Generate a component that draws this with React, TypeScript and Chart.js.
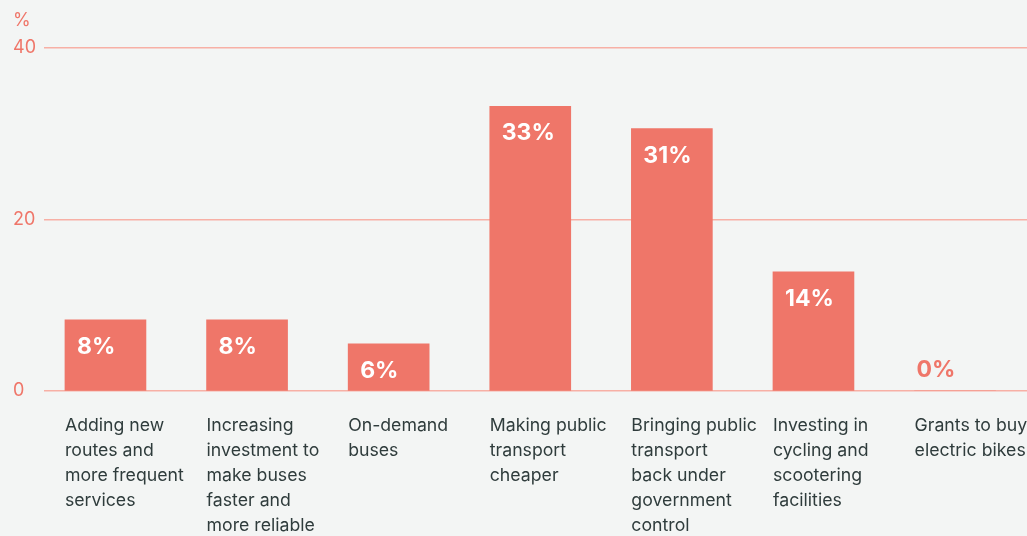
import React, { useEffect, useRef } from "react";
import { Chart, registerables } from "chart.js";

Chart.register(...registerables);

const categories: string[][] = [
  ["Adding new", "routes and", "more frequent", "services"],
  ["Increasing", "investment to", "make buses", "faster and", "more reliable"],
  ["On-demand", "buses"],
  ["Making public", "transport", "cheaper"],
  ["Bringing public", "transport", "back under", "government", "control"],
  ["Investing in", "cycling and", "scootering", "facilities"],
  ["Grants to buy", "electric bikes"],
];
const values = [8.3, 8.3, 5.5, 33.2, 30.6, 13.9, 0];
const valueLabels = ["8%", "8%", "6%", "33%", "31%", "14%", "0%"];
const yTicks = [0, 20, 40];
const yUnit = "%";

const SALMON = "#ef7669";
const GRID = "#f7b0a5";
const BG = "#f3f5f4";
const TEXT = "#2f3c3c";
const FONT = "Inter, 'Noto Sans', sans-serif";

const valueLabelPlugin = {
  id: "valueLabels",
  afterDatasetsDraw(chart: any) {
    const meta = chart.getDatasetMeta(0);
    const ctx = chart.ctx;
    ctx.save();
    ctx.font = `bold 23px ${FONT}`;
    ctx.textAlign = "left";
    ctx.textBaseline = "middle";
    meta.data.forEach((bar: any, i: number) => {
      const left = bar.x - bar.width / 2;
      if (values[i] > 2) {
        ctx.fillStyle = "#ffffff";
        ctx.fillText(valueLabels[i], left + 12, bar.y + 27);
      } else {
        ctx.fillStyle = SALMON;
        ctx.fillText(valueLabels[i], left + 2, bar.base - 21);
      }
    });
    ctx.restore();
  },
};

export default function App() {
  const ref = useRef<HTMLCanvasElement>(null);
  useEffect(() => {
    if (!ref.current) return;
    const chart = new Chart(ref.current, {
      type: "bar",
      data: {
        datasets: [
          {
            data: values.map((v, i) => ({ x: i, y: v })),
            backgroundColor: SALMON,
            borderWidth: 0,
            barThickness: 81,
          },
        ],
      },
      options: {
        animation: false,
        responsive: false,
        maintainAspectRatio: false,
        layout: { padding: { left: 13, right: 0, top: 0, bottom: 0 } },
        plugins: {
          legend: { display: false },
          tooltip: { enabled: false },
          title: {
            display: true,
            text: yUnit,
            align: "start",
            color: SALMON,
            font: { family: FONT, size: 18, weight: "normal", lineHeight: 1.2 },
            padding: { top: 10, bottom: 16.4 },
          },
        },
        scales: {
          x: {
            type: "linear",
            offset: false,
            min: -0.434,
            max: 6.508,
            grid: { display: false, drawTicks: false, offset: false },
            border: { display: false },
            afterBuildTicks: (scale: any) => {
              scale.ticks = categories.map((_, i) => ({ value: i }));
            },
            afterFit: (scale: any) => {
              scale.height = 145;
              scale.paddingLeft = 0;
              scale.paddingRight = 0;
            },
            ticks: {
              autoSkip: false,
              maxRotation: 0,
              minRotation: 0,
              align: "start",
              labelOffset: -40.5,
              padding: 22,
              color: TEXT,
              font: { family: FONT, size: 17.7, lineHeight: 25 / 17.7 },
              callback: (_v: any, i: number) => categories[i],
            },
          },
          y: {
            min: 0,
            max: 40,
            afterBuildTicks: (scale: any) => {
              scale.ticks = yTicks.map((v) => ({ value: v }));
            },
            afterFit: (scale: any) => {
              scale.width = 31;
            },
            grid: { color: GRID, lineWidth: 1.4, drawTicks: false },
            border: { display: false },
            ticks: {
              crossAlign: "far",
              color: SALMON,
              font: { family: FONT, size: 18 },
            },
          },
        },
      },
      plugins: [valueLabelPlugin],
    } as any);
    return () => chart.destroy();
  }, []);
  return (
    <div
      style={{
        position: "fixed",
        left: 0,
        top: 0,
        width: 1027,
        height: 536,
        background: BG,
        overflow: "hidden",
      }}
    >
      <canvas ref={ref} width={1027} height={536} style={{ display: "block" }} />
    </div>
  );
}
